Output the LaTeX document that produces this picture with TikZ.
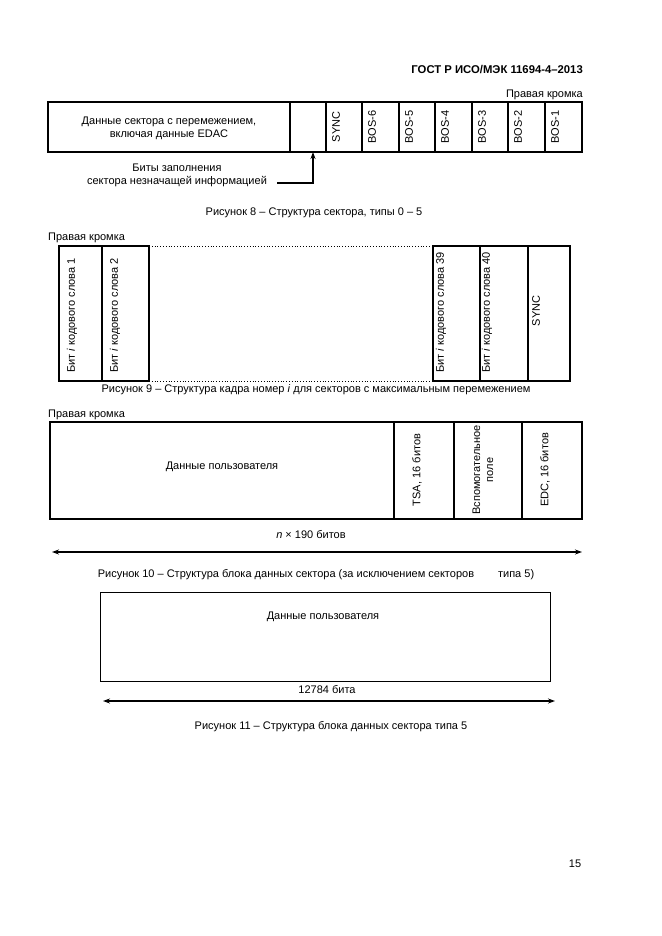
\documentclass[tikz,border=0pt]{standalone}
\usepackage{fontspec}
\setmainfont{Liberation Sans}
\usetikzlibrary{arrows.meta}
\begin{document}
\begin{tikzpicture}[x=1pt,y=-1pt,
  txt/.style={inner sep=0pt,font=\fontsize{11}{13}\selectfont},
  vtxt/.style={inner sep=0pt,rotate=90,font=\fontsize{11}{13}\selectfont},
  cellA/.style={draw,line width=1.3pt},
  cellB/.style={draw,line width=1.6pt},
  cellC/.style={draw,line width=0.8pt},
  arr/.style={line width=1.3pt,-{Stealth[length=7pt,width=5pt]}},
  darr/.style={line width=1.6pt,{Stealth[length=7pt,width=5pt]}-{Stealth[length=7pt,width=5pt]}}]
\useasboundingbox (0,0) rectangle (661,936);
% header
\node[txt,anchor=east,font=\bfseries\fontsize{11.3}{14}\selectfont] (hdr) at (583,70) {ГОСТ Р ИСО/МЭК 11694-4–2013};
\node[txt,anchor=east] (edge8) at (583,95) {Правая кромка};
% Figure 8
\draw[cellA] (48,102) rectangle (582,152);
\foreach \xx in {290,326,362,399,435,472,508,545}{\draw[cellA] (\xx,102) -- (\xx,152);}
\coordinate (fillS) at (313,152);
\node[txt,align=center] (data8) at (169,128) {Данные сектора с перемежением,\\включая данные EDAC};
\node[vtxt] (sync8) at (336,127) {SYNC};
\node[vtxt] (bos6) at (372,127) {BOS-6};
\node[vtxt] (bos5) at (409,127) {BOS-5};
\node[vtxt] (bos4) at (445,127) {BOS-4};
\node[vtxt] (bos3) at (482,127) {BOS-3};
\node[vtxt] (bos2) at (518,127) {BOS-2};
\node[vtxt] (bos1) at (555,127) {BOS-1};
\node[txt,align=center] (fillt) at (177,175.5) {Биты заполнения\\сектора незначащей информацией};
\coordinate (fillL) at (277,183);
\draw[arr] (fillL) -| (fillS);
\node[txt] (cap8) at (314,213) {Рисунок 8 – Структура сектора, типы 0 – 5};
% Figure 9
\node[txt,anchor=west] (edge9) at (48,238) {Правая кромка};
\draw[cellB] (59,246) rectangle (149,381);
\draw[cellB] (102,246) -- (102,381);
\draw[cellB] (433,246) rectangle (570,381);
\draw[cellB] (480,246) -- (480,381);
\draw[cellB] (528,246) -- (528,381);
\coordinate (d1) at (149,246); \coordinate (d2) at (433,246);
\coordinate (d3) at (149,381); \coordinate (d4) at (433,381);
\draw[dotted,line width=0.8pt] (d1) -- (d2);
\draw[dotted,line width=0.8pt] (d3) -- (d4);
\node[vtxt,anchor=west] (w1) at (72,373) {Бит \textit{i} кодового слова 1};
\node[vtxt,anchor=west] (w2) at (115,373) {Бит \textit{i} кодового слова 2};
\node[vtxt,anchor=west] (w39) at (441,373) {Бит \textit{i} кодового слова 39};
\node[vtxt,anchor=west] (w40) at (487,373) {Бит \textit{i} кодового слова 40};
\node[vtxt] (sync9) at (536,311) {SYNC};
\node[txt] (cap9) at (316,390) {Рисунок 9 – Структура кадра номер \textit{i} для секторов с максимальным перемежением};
% Figure 10
\node[txt,anchor=west] (edge10) at (48,415) {Правая кромка};
\draw[cellB] (50,422) rectangle (582,519);
\foreach \xx in {394,454,522}{\draw[cellB] (\xx,422) -- (\xx,519);}
\node[txt] (user10) at (222,467) {Данные пользователя};
\node[vtxt] (tsa) at (417,470) {TSA, 16 битов};
\node[vtxt,align=center] (aux) at (483,470) {Вспомогательное\\поле};
\node[vtxt] (edc) at (545,470) {EDC, 16 битов};
\node[txt] (n190) at (311,535) {\textit{n} × 190 битов};
\coordinate (a10l) at (52,552); \coordinate (a10r) at (582,552);
\draw[darr] (a10l) -- (a10r);
\node[txt] (cap10) at (316,575) {Рисунок 10 – Структура блока данных сектора (за исключением секторов\hspace{24pt}типа 5)};
% Figure 11
\draw[cellC] (100,592) rectangle (550,681);
\node[txt] (user11) at (323,617) {Данные пользователя};
\node[txt] (bits11) at (327,690) {12784 бита};
\coordinate (a11l) at (103,701); \coordinate (a11r) at (555,701);
\draw[darr] (a11l) -- (a11r);
\node[txt] (cap11) at (331,727) {Рисунок 11 – Структура блока данных сектора типа 5};
% page number
\node[txt] (pg) at (575,864) {15};
\end{tikzpicture}
\end{document}
